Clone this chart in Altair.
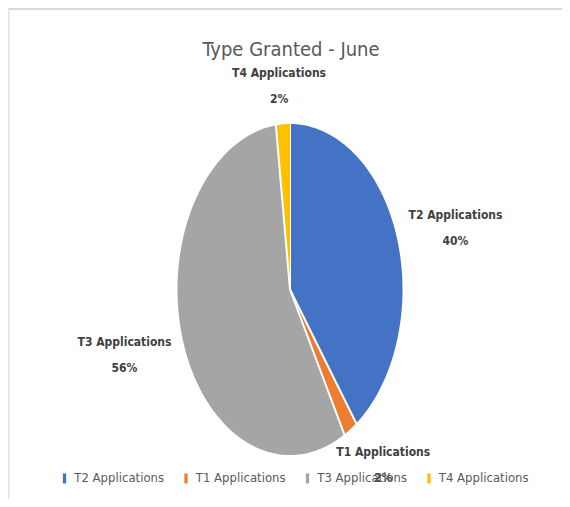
import altair as alt
import pandas as pd

# ---- data ----
categories = ["T2 Applications", "T1 Applications", "T3 Applications", "T4 Applications"]
values = [40, 2, 56, 2]
colors = ["#4472C4", "#ED7D31", "#A5A5A5", "#FFC000"]
title_text = "Type Granted - June"

df = pd.DataFrame({"category": categories, "value": values, "idx": list(range(len(categories)))})

FONT = "'DejaVu Sans Condensed', 'Liberation Sans', sans-serif"

W, H = 554, 491
CX, CY = 282, 281.5          # pie centre in plot pixels
RX, RY = 113.5, 166.5        # elliptical pie radii
LRX, LRY = 174, 206          # label radii
N = 90

xs = alt.Scale(domain=[-CX, W - CX], nice=False, zero=False)
ys = alt.Scale(domain=[-(H - CY), CY], nice=False, zero=False)

base = (
    alt.Chart(df)
    .transform_joinaggregate(total="sum(value)")
    .transform_window(cum="sum(value)", sort=[alt.SortField("idx")], frame=[None, 0])
    .transform_calculate(
        t0="(datum.cum - datum.value) / datum.total * 2 * PI",
        t1="datum.cum / datum.total * 2 * PI",
    )
)

slices = (
    base.transform_calculate(steps=f"sequence(-1, {N + 1})")
    .transform_flatten(["steps"], as_=["k"])
    .transform_calculate(ang=f"datum.t0 + (datum.t1 - datum.t0) * max(datum.k, 0) / {N}")
    .transform_calculate(
        px=f"datum.k < 0 ? 0 : sin(datum.ang) * {RX}",
        py=f"datum.k < 0 ? 0 : cos(datum.ang) * {RY}",
    )
    .mark_line(stroke="white", strokeWidth=2, strokeJoin="round", interpolate="linear")
    .encode(
        x=alt.X("px:Q", scale=xs, axis=None),
        y=alt.Y("py:Q", scale=ys, axis=None),
        order=alt.Order("k:Q"),
        fill=alt.Fill(
            "category:N",
            scale=alt.Scale(domain=categories, range=colors),
            legend=alt.Legend(
                orient="none",
                legendX=50,
                legendY=463.7,
                direction="horizontal",
                columns=4,
                title=None,
                symbolType="M-0.33,-1H0.33V1H-0.33Z",
                symbolSize=100,
                symbolStrokeWidth=0,
                symbolOpacity=1,
                labelFont=FONT,
                labelFontSize=13,
                labelColor="#595959",
                labelOffset=3.3,
                columnPadding=14.5,
                padding=0,
            ),
        ),
    )
)

labels = (
    base.transform_calculate(
        mid="(datum.t0 + datum.t1) / 2",
        label="datum.category + '\\n' + format(datum.value / datum.total, '.0%')",
    )
    .transform_calculate(
        lx=f"sin(datum.mid) * {LRX}",
        ly=f"cos(datum.mid) * {LRY}",
    )
    .mark_text(
        lineBreak="\n",
        font=FONT,
        fontSize=12,
        fontWeight="bold",
        color="#404040",
        align="center",
        baseline="middle",
        lineHeight=26,
        dy=-11,
    )
    .encode(
        x=alt.X("lx:Q", scale=xs, axis=None),
        y=alt.Y("ly:Q", scale=ys, axis=None),
        text="label:N",
    )
)

title = (
    alt.Chart(pd.DataFrame({"t": [title_text]}))
    .mark_text(font=FONT, fontSize=20, color="#595959", align="center", baseline="alphabetic")
    .encode(text="t:N", x=alt.value(283), y=alt.value(48))
)

frame_top = alt.Chart(pd.DataFrame({"a": [0]})).mark_rule(color="#d9d9d9", strokeWidth=2).encode(
    x=alt.value(0), x2=alt.value(W), y=alt.value(1)
)
frame_left = alt.Chart(pd.DataFrame({"a": [0]})).mark_rule(color="#e3e3e3", strokeWidth=1.5).encode(
    x=alt.value(0.75), y=alt.value(0), y2=alt.value(H)
)

chart = (
    alt.layer(frame_top, frame_left, slices, labels, title)
    .properties(width=W, height=H, padding=0, autosize=alt.AutoSizeParams(type="none"))
    .configure_view(stroke=None)
)

chart.save("out.html", embed_options={"renderer": "svg", "actions": False})
